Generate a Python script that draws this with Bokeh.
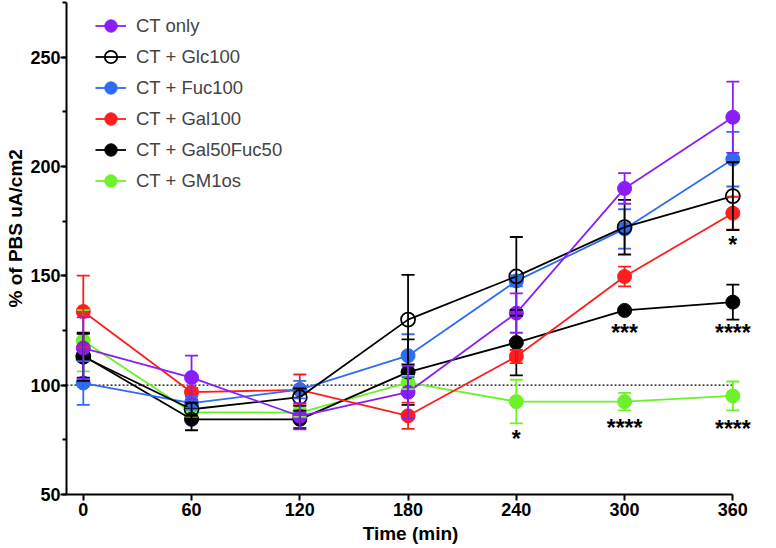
from bokeh.plotting import figure
from bokeh.models import (Range1d, ColumnDataSource, Whisker, TeeHead, Legend, LegendItem,
                          FixedTicker, SingleIntervalTicker, Title)
from bokeh.core.properties import value
from bokeh.embed import file_html
from bokeh.resources import INLINE

# ---- data ----
times = [0, 60, 120, 180, 240, 300, 360]

series_names = ["CT only", "CT + Glc100", "CT + Fuc100", "CT + Gal100", "CT + Gal50Fuc50", "CT + GM1os"]

ct_only = [117, 103.5, 85.8, 96.8, 133.0, 190.0, 222.6]
ct_only_err = [14, 10, 6, 12, 9, 7, 16.3]

ct_glc = [113, 89.0, 94.5, 130.0, 149.8, 172.3, 186.5]
ct_glc_err = [11, 3, 4, 20.5, 18, 12.5, 15.5]

ct_fuc = [101, 91.8, 98.0, 113.5, 147.7, 171.5, 203.4]
ct_fuc_err = [10, 3, 4, 9.8, 2.5, 9, 12.5]

ct_gal = [133.7, 96.8, 97.9, 86.0, 113.1, 149.7, 178.7]
ct_gal_err = [16.4, 2, 7, 6, 3, 4.5, 7.5]

ct_galfuc = [113.5, 84.4, 84.4, 106.0, 119.5, 134.2, 138.0]
ct_galfuc_err = [10, 5, 4, 15, 15, 1, 8]

ct_gm1 = [120.3, 87.6, 87.5, 101.2, 92.5, 92.5, 95.1]
ct_gm1_err = [14, 2, 2, 3, 10, 4, 6.6]

baseline = 100

sig_x = [360, 300, 360, 240, 300, 360]
sig_y = [166.9, 126.7, 126.7, 78.2, 83.3, 82.9]
sig_text = ["*", "***", "****", "*", "****", "****"]

colors = ["#8A1EF6", "#000000", "#2F6BF3", "#FF1E1E", "#000000", "#6CF228"]
filled = [True, False, True, True, True, True]

values_all = [ct_only, ct_glc, ct_fuc, ct_gal, ct_galfuc, ct_gm1]
errs_all = [ct_only_err, ct_glc_err, ct_fuc_err, ct_gal_err, ct_galfuc_err, ct_gm1_err]

FONT = "Liberation Sans"
x_start, x_end = -9.3, 372
y_start, y_end = 50, 275.07

p = figure(frame_width=688, frame_height=492,
           x_range=Range1d(x_start, x_end), y_range=Range1d(y_start, y_end),
           output_backend="svg", toolbar_location=None,
           min_border_left=40, min_border_right=5, min_border_top=2, min_border_bottom=46)
p.outline_line_color = None
p.grid.grid_line_color = None
p.background_fill_color = "white"

# baseline dotted line
p.line(x=[x_start, times[-1]], y=[baseline, baseline], line_color="black",
       line_dash="2 2", line_width=1.3)

renderers = {}
# draw in reverse order so first series is on top
for i in reversed(range(len(series_names))):
    vals = values_all[i]
    errs = errs_all[i]
    col = colors[i]
    src = ColumnDataSource(dict(x=times, y=vals,
                                upper=[v + e for v, e in zip(vals, errs)],
                                lower=[v - e for v, e in zip(vals, errs)]))
    w = Whisker(source=src, base="x", upper="upper", lower="lower",
                line_color=col, line_width=1.8, level="glyph",
                upper_head=TeeHead(size=13, line_color=col, line_width=1.8),
                lower_head=TeeHead(size=13, line_color=col, line_width=1.8))
    p.add_layout(w)
    lr = p.line("x", "y", source=src, line_color=col, line_width=1.8)
    if filled[i]:
        sr = p.scatter("x", "y", source=src, marker="circle", size=14,
                       fill_color=col, line_color=col, line_width=1)
    else:
        sr = p.scatter("x", "y", source=src, marker="circle", size=14,
                       fill_alpha=0, line_color=col, line_width=1.8)
    renderers[i] = [lr, sr]

# significance stars
p.text(x=sig_x, y=sig_y, text=sig_text, text_font=value(FONT), text_font_style="bold",
       text_font_size="23px", text_align="center", text_baseline="middle",
       text_color="black", y_offset=6)

items = [LegendItem(label=series_names[i], renderers=renderers[i]) for i in range(len(series_names))]
legend = Legend(items=items, location=(29, 298), orientation="vertical",
                glyph_width=31, glyph_height=31, label_height=20, spacing=0,
                label_standoff=10, padding=0, margin=0,
                label_text_font=FONT, label_text_font_size="18.5px",
                border_line_color=None, background_fill_alpha=0)
p.add_layout(legend)

# axes
xa = p.xaxis[0]
xa.ticker = FixedTicker(ticks=times)
xa.bounds = (x_start, times[-1])
xa.axis_label = "Time (min)"
ya = p.yaxis[0]
ya.ticker = SingleIntervalTicker(interval=50, num_minor_ticks=2)

for ax in (xa, ya):
    ax.axis_line_width = 2
    ax.axis_line_color = "black"
    ax.major_tick_line_width = 2
    ax.major_tick_line_color = "black"
    ax.major_tick_out = 6
    ax.major_tick_in = 0
    ax.major_label_text_font = FONT
    ax.major_label_text_font_style = "bold"
    ax.major_label_text_font_size = "18px"
    ax.major_label_text_color = "black"
    ax.axis_label_text_font = FONT
    ax.axis_label_text_font_style = "bold"
    ax.axis_label_text_font_size = "19px"
    ax.axis_label_text_color = "black"

xa.minor_tick_line_color = None
xa.major_label_standoff = 2
xa.axis_label_standoff = 4
ya.minor_tick_line_color = "black"
ya.minor_tick_line_width = 2
ya.minor_tick_out = 4
ya.minor_tick_in = 0
ya.major_label_standoff = 0

# y-axis title placed off-centre like the original
ytitle = Title(text="% of PBS uA/cm2", align="left", offset=187,
               text_font=FONT, text_font_style="bold", text_font_size="19px",
               text_color="black", standoff=4)
p.add_layout(ytitle, "left")

open("out.html", "w").write(file_html(p, INLINE))
